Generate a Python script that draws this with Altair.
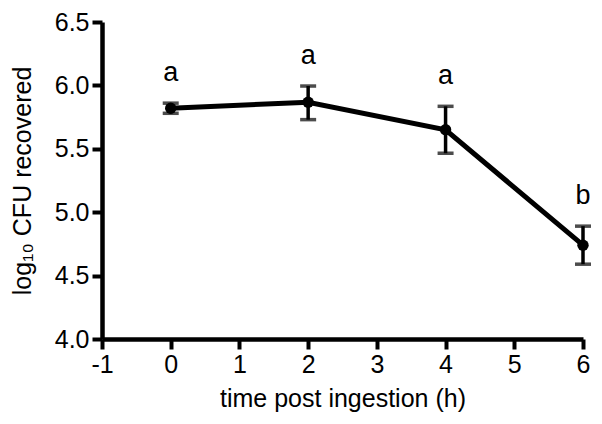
import altair as alt
import pandas as pd

time_h = [0, 2, 4, 6]
mean_log = [5.82, 5.867, 5.65, 4.74]
lower = [5.78, 5.73, 5.465, 4.59]
upper = [5.86, 5.995, 5.835, 4.89]
letters = ["a", "a", "a", "b"]
x_ticks = [-1, 0, 1, 2, 3, 4, 5, 6]
y_ticks = [4.0, 4.5, 5.0, 5.5, 6.0, 6.5]

df = pd.DataFrame({"t": time_h, "m": mean_log, "lo": lower, "hi": upper, "lab": letters})

FONT = "Liberation Sans"
xs = alt.Scale(domain=[-1, 6], nice=False, zero=False)
ys = alt.Scale(domain=[4.0, 6.5], nice=False, zero=False)

common = dict(
    grid=False,
    domainColor="black", domainWidth=4.5,
    tickColor="black", tickWidth=4, tickSize=10,
    labelFont=FONT, labelFontSize=25, labelColor="black", labelFlush=False,
    labelOverlap=False,
    titleFont=FONT, titleFontSize=25, titleColor="black", titleFontWeight="normal",
)

base = alt.Chart(df)

x_enc = alt.X("t:Q", scale=xs, axis=alt.Axis(values=x_ticks, title="time post ingestion (h)",
                                              labelExpr="'' + datum.value", labelPadding=3,
                                              titlePadding=9, **common))
y_enc = alt.Y("m:Q", scale=ys, axis=alt.Axis(values=y_ticks, format=".1f", title="log₁₀ CFU recovered",
                                              labelPadding=3, titlePadding=19, **common))

line = base.mark_line(color="black", strokeWidth=5).encode(x=x_enc, y=y_enc)
pts = base.mark_point(filled=True, color="black", size=130, opacity=1).encode(x="t:Q", y="m:Q")
bars = base.mark_rule(color="black", strokeWidth=3.5).encode(x="t:Q", y="lo:Q", y2="hi:Q")
cap_lo = base.mark_tick(color="black", thickness=3.5, size=16, orient="horizontal").encode(x="t:Q", y="lo:Q")
cap_hi = base.mark_tick(color="black", thickness=3.5, size=16, orient="horizontal").encode(x="t:Q", y="hi:Q")
txt = base.mark_text(font=FONT, fontSize=27, color="black", dy=-30, baseline="middle").encode(x="t:Q", y="hi:Q", text="lab:N")

chart = alt.layer(line, bars, cap_lo, cap_hi, pts, txt).properties(
    width=481, height=317,
    autosize=alt.AutoSizeParams(type="none"),
    padding={"left": 94, "top": 14, "right": 10, "bottom": 80},
).configure_view(stroke=None)

chart.save("out.html", embed_options={"renderer": "svg", "actions": False})
